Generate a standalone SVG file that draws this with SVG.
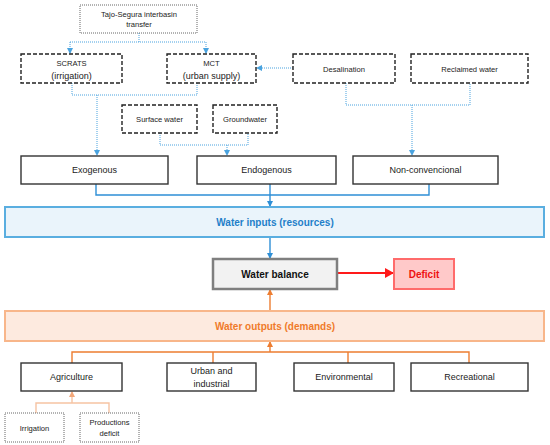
<svg xmlns="http://www.w3.org/2000/svg" width="550" height="445" viewBox="0 0 550 445">
<style>
text{font-family:"Liberation Sans",Arial,sans-serif;fill:#222;text-anchor:middle}
.t9{font-size:9px}
.t8{font-size:7.6px}
.b{font-weight:bold;font-size:10px}
.dash{fill:#fff;stroke:#222;stroke-width:1.4;stroke-dasharray:4 2}
.dot{fill:#fff;stroke:#666;stroke-width:1;stroke-dasharray:1 1}
.solid{fill:#fff;stroke:#333;stroke-width:1.4}
.bd{fill:none;stroke:#4aa3df;stroke-width:1;stroke-dasharray:1 1}
.bs{fill:none;stroke:#2e8fd6;stroke-width:1.4}
.os{fill:none;stroke:#ed7d31;stroke-width:1.4}
.ol{fill:none;stroke:#f6c3a3;stroke-width:1.4}
</style>
<defs>
<marker id="ab" markerWidth="6" markerHeight="6" refX="5" refY="3" orient="auto" markerUnits="userSpaceOnUse"><path d="M0,0 L6,3 L0,6 Z" fill="#4aa3df"/></marker>
<marker id="abs" markerWidth="6" markerHeight="6" refX="5" refY="3" orient="auto" markerUnits="userSpaceOnUse"><path d="M0,0 L6,3 L0,6 Z" fill="#2e8fd6"/></marker>
<marker id="ao" markerWidth="6" markerHeight="6" refX="5" refY="3" orient="auto" markerUnits="userSpaceOnUse"><path d="M0,0 L6,3 L0,6 Z" fill="#ed7d31"/></marker>
<marker id="aol" markerWidth="6" markerHeight="6" refX="5" refY="3" orient="auto" markerUnits="userSpaceOnUse"><path d="M0,0 L6,3 L0,6 Z" fill="#f2a77a"/></marker>
<marker id="ar" markerWidth="10" markerHeight="10" refX="8" refY="5" orient="auto" markerUnits="userSpaceOnUse"><path d="M0,0 L9,5 L0,10 Z" fill="#ff1a1a"/></marker>
</defs>

<g id="connectors">
<path class="bd" d="M139,33 V42 M70,42 H206"/>
<path class="bd" d="M70,42 V53" marker-end="url(#ab)"/>
<path class="bd" d="M206,42 V53" marker-end="url(#ab)"/>
<path class="bd" d="M293,68 H257" marker-end="url(#ab)"/>
<path class="bd" d="M72,83 V95 H197 V83"/>
<path class="bd" d="M97,95 V155" marker-end="url(#ab)"/>
<path class="bd" d="M160,133 V145 H248 V133"/>
<path class="bd" d="M227,145 V155" marker-end="url(#ab)"/>
<path class="bd" d="M346,83 V105 H470 V83"/>
<path class="bd" d="M412,105 V155" marker-end="url(#ab)"/>
<path class="bs" d="M96,184 V195 H429 V184"/>
<path class="bs" d="M270,184 V206" marker-end="url(#abs)"/>
<path class="bs" d="M270,237 V258" marker-end="url(#abs)"/>
<path d="M337,273 H393" stroke="#ff1a1a" stroke-width="2" fill="none" marker-end="url(#ar)"/>
<path class="os" d="M270,311 V290" marker-end="url(#ao)"/>
<path class="os" d="M72,363 V352 H469 V363 M213,352 V363 M348,352 V363"/>
<path class="os" d="M270,352 V342" marker-end="url(#ao)"/>
<path class="ol" d="M36,413 V403 H109 V413"/>
<path class="ol" d="M72,403 V392" marker-end="url(#aol)"/>
</g>

<g id="tajo"><rect class="dot" x="80" y="5" width="117" height="28"/><text class="t8" x="139" y="16.5">Tajo-Segura interbasin</text><text class="t8" x="139" y="27">transfer</text></g>
<g id="scrats"><rect class="dash" x="21" y="54" width="101" height="29"/><text class="t8" x="71.5" y="65.5">SCRATS</text><text class="t9" x="71.5" y="78.5">(irrigation)</text></g>
<g id="mct"><rect class="dash" x="167" y="54" width="89" height="29"/><text class="t8" x="211.5" y="65.5">MCT</text><text class="t9" x="211.5" y="78.5">(urban supply)</text></g>
<g id="desal"><rect class="dash" x="293" y="54" width="102" height="29"/><text class="t8" x="344" y="72">Desalination</text></g>
<g id="reclaimed"><rect class="dash" x="411" y="54" width="117" height="29"/><text class="t8" x="469.5" y="72">Reclaimed water</text></g>
<g id="surface"><rect class="dash" x="122" y="105" width="75" height="28"/><text class="t8" x="159.5" y="122">Surface water</text></g>
<g id="ground"><rect class="dash" x="213" y="105" width="64" height="28"/><text class="t8" x="245" y="122">Groundwater</text></g>
<g id="exo"><rect class="solid" x="21" y="156" width="147" height="28"/><text class="t9" x="94.5" y="173">Exogenous</text></g>
<g id="endo"><rect class="solid" x="197" y="156" width="139" height="28"/><text class="t9" x="266.5" y="173">Endogenous</text></g>
<g id="nonconv"><rect class="solid" x="353" y="156" width="145" height="28"/><text class="t9" x="425.5" y="173">Non-convencional</text></g>
<g id="inputs"><rect x="5" y="207" width="539" height="30" fill="#eaf4fb" stroke="#5aaee0" stroke-width="2"/><text class="b" x="275" y="225.5" style="fill:#1f7fc9">Water inputs (resources)</text></g>
<g id="balance"><rect x="213" y="259" width="124" height="30" fill="#f2f2f2" stroke="#7f7f7f" stroke-width="2.5"/><text class="b" x="275" y="277.5" style="fill:#111">Water balance</text></g>
<g id="deficit"><rect x="394" y="259" width="60" height="30" fill="#ffc9c9" stroke="#ff6b6b" stroke-width="2"/><text class="b" x="424" y="277.5" style="fill:#ee1111">Deficit</text></g>
<g id="outputs"><rect x="5" y="311" width="539" height="30" fill="#fdeadf" stroke="#f8b68a" stroke-width="2"/><text class="b" x="275" y="329.5" style="fill:#f07a2a">Water outputs (demands)</text></g>
<g id="agri"><rect class="solid" x="21" y="363" width="101" height="28"/><text class="t9" x="71.5" y="380">Agriculture</text></g>
<g id="urban"><rect class="solid" x="167" y="363" width="89" height="28"/><text class="t9" x="211.5" y="373.5">Urban and</text><text class="t9" x="211.5" y="387">industrial</text></g>
<g id="env"><rect class="solid" x="294" y="363" width="100" height="28"/><text class="t9" x="344" y="380">Environmental</text></g>
<g id="rec"><rect class="solid" x="411" y="363" width="117" height="28"/><text class="t9" x="469.5" y="380">Recreational</text></g>
<g id="irr"><rect class="dot" x="5" y="413" width="59" height="29"/><text class="t8" x="34.5" y="430.5">Irrigation</text></g>
<g id="prod"><rect class="dot" x="80" y="413" width="59" height="29"/><text class="t8" x="109.5" y="424.5">Productions</text><text class="t8" x="109.5" y="436">deficit</text></g>
</svg>
